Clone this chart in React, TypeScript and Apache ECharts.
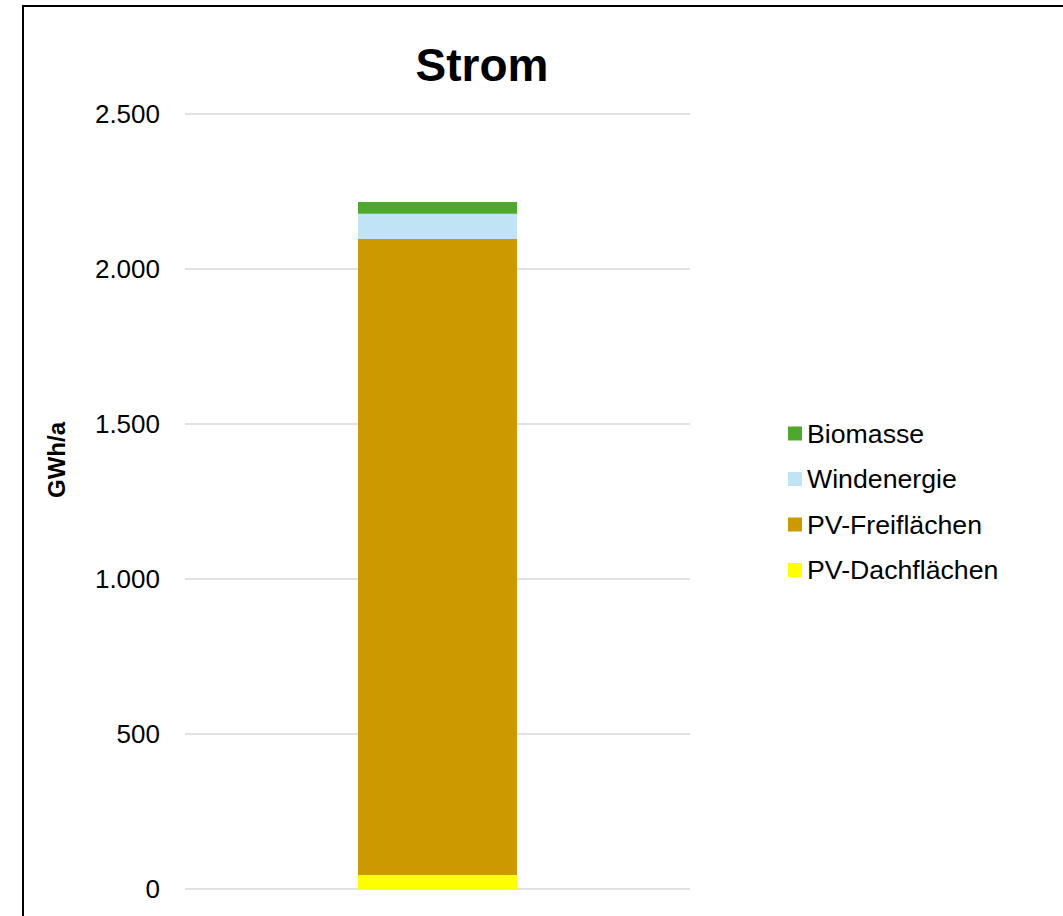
import React, { useEffect, useRef } from "react";
import * as echarts from "echarts";

const categories = ["Strom"];
const seriesNames = ["PV-Dachflächen", "PV-Freiflächen", "Windenergie", "Biomasse"];
const seriesColors = ["#ffff00", "#cc9900", "#c0e4f5", "#4ea72e"];
const pvDach = [45];
const pvFrei = [2052];
const wind = [81];
const biomasse = [38];
const legendOrder = ["Biomasse", "Windenergie", "PV-Freiflächen", "PV-Dachflächen"];

const FONT = "'Liberation Sans', Arial, sans-serif";

export default function App() {
  const ref = useRef<HTMLDivElement>(null);
  useEffect(() => {
    if (!ref.current) return;
    const chart = echarts.init(ref.current, undefined, { renderer: "svg" });
    const values = [pvDach, pvFrei, wind, biomasse];
    chart.setOption({
      animation: false,
      backgroundColor: "#ffffff",
      textStyle: { fontFamily: FONT },
      grid: { left: 185, top: 114, width: 505, height: 775, containLabel: false },
      xAxis: {
        type: "category",
        data: categories,
        axisLine: { show: false },
        axisTick: { show: false },
        axisLabel: { show: false },
      },
      yAxis: {
        type: "value",
        min: 0,
        max: 2500,
        interval: 500,
        axisLine: { show: false },
        axisTick: { show: false },
        splitLine: { lineStyle: { color: "#d9d9d9", width: 1.5 } },
        axisLabel: {
          margin: 25,
          fontSize: 26,
          color: "#000",
          fontFamily: FONT,
          formatter: (v: number) => v.toLocaleString("de-DE"),
        },
      },
      legend: {
        orient: "vertical",
        left: 788,
        top: 420,
        padding: 0,
        icon: "rect",
        itemWidth: 14,
        itemHeight: 14,
        itemGap: 18.5,
        data: legendOrder,
        textStyle: { fontSize: 26.7, lineHeight: 26, color: "#000", fontFamily: FONT },
      },
      series: seriesNames.map((name, i) => ({
        name,
        type: "bar",
        stack: "total",
        barWidth: 159,
        data: values[i],
        itemStyle: { color: seriesColors[i] },
      })),
      graphic: [
        {
          type: "rect",
          shape: { x: 23, y: 6, width: 1100, height: 1000 },
          style: { fill: "none", stroke: "#000", lineWidth: 2 },
          silent: true,
        },
        {
          type: "text",
          x: 482,
          y: 65,
          style: {
            text: "Strom",
            font: `bold 46px ${FONT}`,
            fill: "#000",
            textAlign: "center",
            textVerticalAlign: "middle",
          },
        },
        {
          type: "text",
          x: 56,
          y: 460,
          rotation: Math.PI / 2,
          style: {
            text: "GWh/a",
            font: `bold 24px ${FONT}`,
            fill: "#000",
            textAlign: "center",
            textVerticalAlign: "middle",
          },
        },
      ],
    });
    return () => chart.dispose();
  }, []);
  return (
    <div
      ref={ref}
      style={{ position: "fixed", left: 0, top: 0, width: 1063, height: 916 }}
    />
  );
}
